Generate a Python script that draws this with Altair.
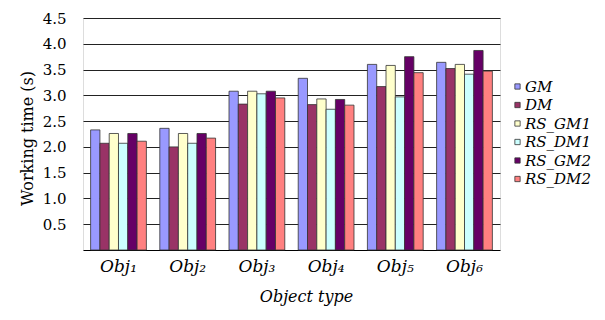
import altair as alt
import pandas as pd

objects = ["Obj₁", "Obj₂", "Obj₃", "Obj₄", "Obj₅", "Obj₆"]
series = ["GM", "DM", "RS_GM1", "RS_DM1", "RS_GM2", "RS_DM2"]
colors = ["#9999FF", "#993366", "#FFFFCC", "#CCFFFF", "#660066", "#FF8080"]

GM = [2.33, 2.36, 3.08, 3.33, 3.60, 3.64]
DM = [2.07, 2.00, 2.83, 2.82, 3.17, 3.52]
RS_GM1 = [2.26, 2.26, 3.08, 2.93, 3.58, 3.60]
RS_DM1 = [2.07, 2.07, 3.03, 2.73, 2.97, 3.41]
RS_GM2 = [2.26, 2.26, 3.08, 2.92, 3.75, 3.87]
RS_DM2 = [2.11, 2.17, 2.95, 2.81, 3.44, 3.47]

values = [GM, DM, RS_GM1, RS_DM1, RS_GM2, RS_DM2]
rows = []
for s, vals in zip(series, values):
    for o, v in zip(objects, vals):
        rows.append({"object": o, "series": s, "time": v})
df = pd.DataFrame(rows)

font = "DejaVu Serif"

chart = alt.Chart(df).mark_bar(stroke="#333333", strokeWidth=0.8).encode(
    x=alt.X("object:N", sort=objects,
            scale=alt.Scale(paddingInner=0.194, paddingOuter=0.11),
            axis=alt.Axis(title="Object type", labelAngle=0, labelFont=font,
                          labelFontSize=17, labelFontStyle="italic", labelColor="black",
                          labelPadding=8, ticks=False, domainColor="black",
                          titleFont=font, titleFontSize=16, titleFontStyle="italic",
                          titleFontWeight="normal", titleColor="black",
                          titleX=223, titleY=38, titleBaseline="top")),
    xOffset=alt.XOffset("series:N", sort=series),
    y=alt.Y("time:Q", scale=alt.Scale(domain=[0, 4.5], nice=False),
            axis=alt.Axis(title="Working time (s)", values=[0.5, 1, 1.5, 2, 2.5, 3, 3.5, 4, 4.5],
                          format=".1f", labelFont=font, labelFontSize=15, labelColor="black",
                          labelPadding=17, ticks=False, domain=False,
                          gridColor="#222222", gridWidth=1, gridOpacity=1,
                          titleFont=font, titleFontSize=16, titleFontWeight="normal",
                          titleColor="black", titleX=-48, titleY=120)),
    color=alt.Color("series:N", sort=series,
                    scale=alt.Scale(domain=series, range=colors),
                    legend=alt.Legend(title=None, orient="none", legendX=427, legendY=61,
                                      symbolType="square", symbolSize=28,
                                      symbolStrokeColor="#333333", symbolStrokeWidth=0.8,
                                      labelFont=font, labelFontSize=15,
                                      labelFontStyle="italic", labelColor="black",
                                      labelOffset=0, rowPadding=2.5, symbolOpacity=1)),
).properties(
    width=417, height=232,
    padding={"left": 83, "top": 18, "right": 105, "bottom": 70},
    autosize=alt.AutoSizeParams(type="none"),
).configure_view(stroke=None).configure(background="white", font=font)

chart.save("out.html", embed_options={"renderer": "svg", "actions": False})
